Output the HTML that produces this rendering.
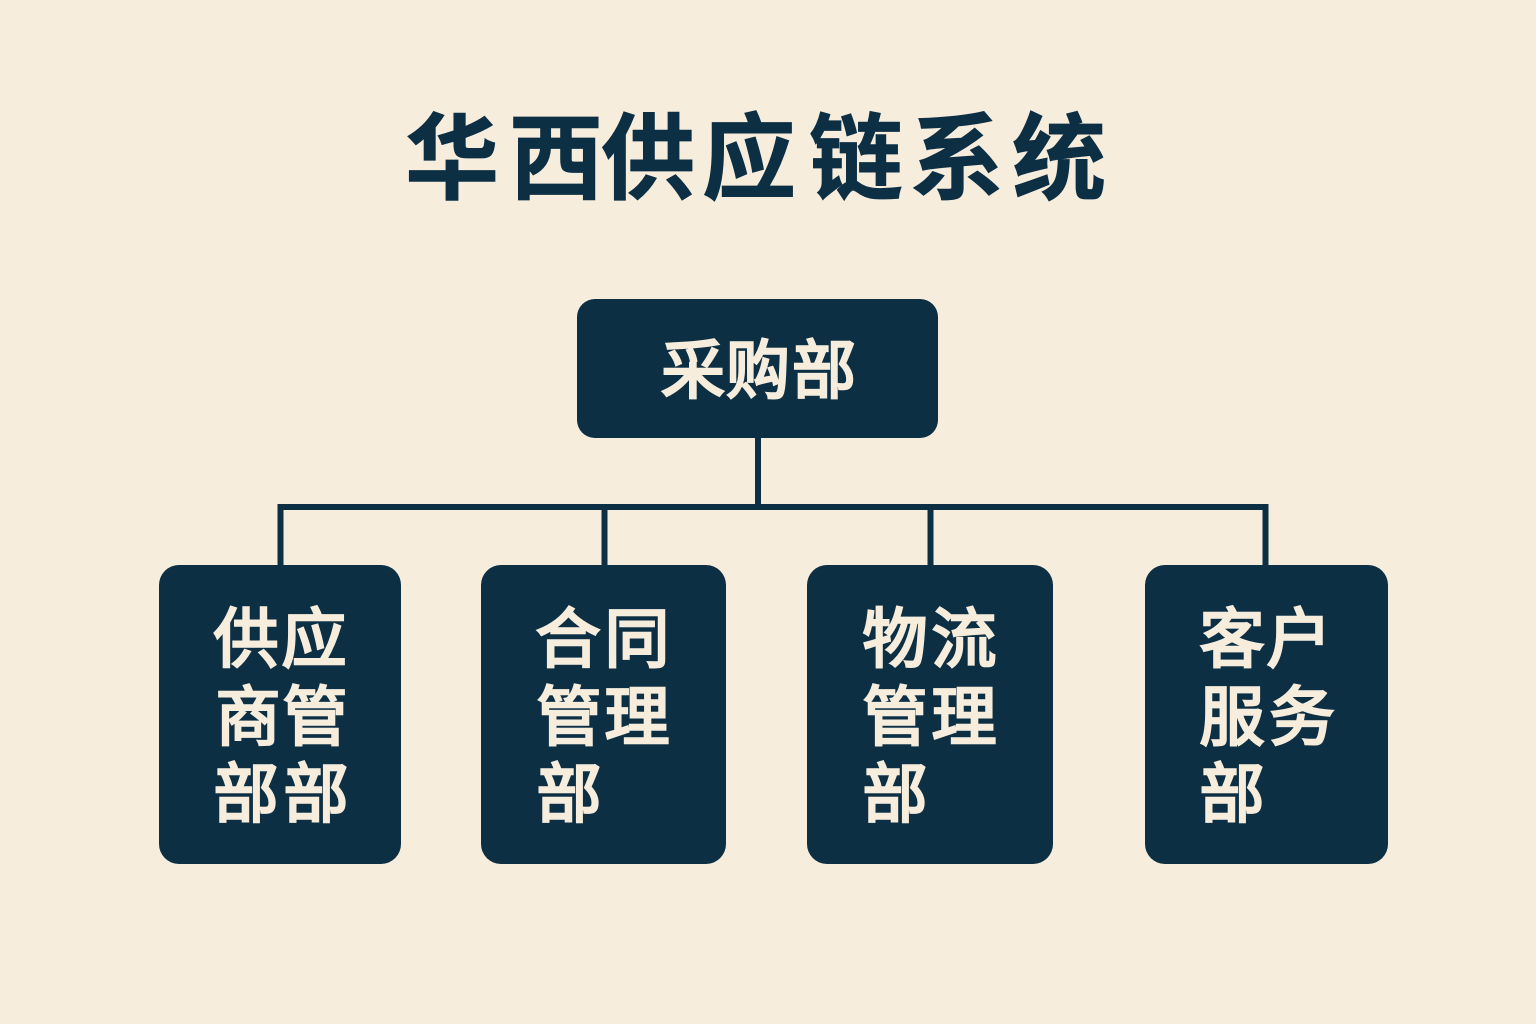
<!DOCTYPE html>
<html lang="zh">
<head>
<meta charset="utf-8">
<style>
html,body{margin:0;padding:0;width:1536px;height:1024px;overflow:hidden;background:#f6eddd}
svg{display:block}
text{font-family:"Liberation Sans","Noto Sans CJK SC",sans-serif;text-anchor:middle;dominant-baseline:central}
.t{font-size:94px;font-weight:700;fill:#0d2f44;stroke:#0d2f44;stroke-width:0.8px}
.r{font-size:64px;font-weight:400;fill:#f6eddd;stroke:#f6eddd;stroke-width:2.6px}
.c{font-size:65px;font-weight:400;fill:#f6eddd;stroke:#f6eddd;stroke-width:2.6px}
</style>
</head>
<body>
<svg width="1536" height="1024" viewBox="0 0 1536 1024" xmlns="http://www.w3.org/2000/svg">
<rect width="1536" height="1024" fill="#f6eddd"/>
<text class="t" x="452" y="159">华</text>
<text class="t" x="556" y="159">西</text>
<text class="t" x="648" y="159">供</text>
<text class="t" x="749" y="159">应</text>
<text class="t" x="856" y="159">链</text>
<text class="t" x="957" y="159">系</text>
<text class="t" x="1059" y="159">统</text>
<g stroke="#0d2f44" stroke-width="6" fill="none">
<path d="M758 436V507"/>
<path d="M280.500 566V507H1265.500V566"/>
<path d="M604.500 507V566"/>
<path d="M930.500 507V566"/>
</g>
<g fill="#0d2f44">
<rect x="577" y="299" width="361" height="139" rx="18"/>
<rect x="159" y="565" width="242" height="299" rx="20"/>
<rect x="481" y="565" width="245" height="299" rx="20"/>
<rect x="807" y="565" width="246" height="299" rx="20"/>
<rect x="1145" y="565" width="243" height="299" rx="20"/>
</g>
<text class="r" x="693" y="371">采</text>
<text class="r" x="758" y="371">购</text>
<text class="r" x="824" y="371">部</text>
<text class="c" x="246" y="639">供</text>
<text class="c" x="314" y="639">应</text>
<text class="c" x="248" y="717">商</text>
<text class="c" x="315" y="717">管</text>
<text class="c" x="246" y="794">部</text>
<text class="c" x="316" y="794">部</text>
<text class="c" x="568" y="639">合</text>
<text class="c" x="637" y="639">同</text>
<text class="c" x="569" y="717">管</text>
<text class="c" x="637" y="717">理</text>
<text class="c" x="569" y="794">部</text>
<text class="c" x="895" y="639">物</text>
<text class="c" x="964" y="639">流</text>
<text class="c" x="895" y="717">管</text>
<text class="c" x="964" y="717">理</text>
<text class="c" x="895" y="794">部</text>
<text class="c" x="1232" y="639">客</text>
<text class="c" x="1299" y="639">户</text>
<text class="c" x="1232" y="717">服</text>
<text class="c" x="1302" y="717">务</text>
<text class="c" x="1232" y="794">部</text>
</svg>
</body>
</html>
